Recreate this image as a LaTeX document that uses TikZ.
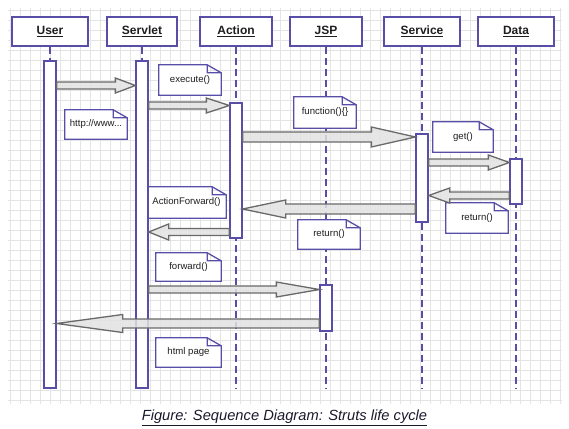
\documentclass[tikz,border=0pt]{standalone}
\usepackage{fontspec}
\setmainfont{Liberation Sans}
\usepackage{tikz}
\usetikzlibrary{calc}

\definecolor{umlblue}{RGB}{88,78,168}
\definecolor{textgray}{RGB}{30,30,30}
\definecolor{arrowgray}{RGB}{105,105,105}
\definecolor{arrowfill}{RGB}{226,226,226}
\definecolor{gridgray}{RGB}{228,228,228}
\definecolor{captioncol}{RGB}{25,25,45}

\pgfdeclarelayer{bg}
\pgfdeclarelayer{lines}
\pgfdeclarelayer{notebg}
\pgfsetlayers{bg,lines,notebg,main}

% block arrow: from, to, half shaft, half head, head length
\newcommand\msg[5]{%
  \filldraw[msgarrow] let \p1=(#1), \p2=(#2), \n1={sign(\x2-\x1)*#5} in
    (\x1,\y1+#3) -- (\x2-\n1,\y1+#3) -- (\x2-\n1,\y1+#4) -- (\x2,\y1)
    -- (\x2-\n1,\y1-#4) -- (\x2-\n1,\y1-#3) -- (\x1,\y1-#3) -- cycle;}

\begin{document}
\begin{tikzpicture}[x=1pt,y=-1pt,
  head/.style={draw=umlblue,line width=1.3pt,fill=white,minimum height=29pt,
    font=\fontsize{12}{14}\selectfont\bfseries,text=textgray},
  bar/.style={draw=umlblue,line width=1.3pt,fill=white,minimum width=12pt,inner sep=0pt},
  lifeline/.style={draw=umlblue,line width=1.3pt,dash pattern=on 7pt off 4pt},
  note/.style={minimum height=29pt,inner sep=0pt,
    font=\fontsize{9.6}{11}\selectfont,text=textgray},
  notebox/.style={draw=umlblue,line width=1.3pt,fill=white,line join=miter},
  msgarrow/.style={draw=arrowgray,fill=arrowfill,fill opacity=0.85,
    line width=1.3pt,line join=miter},
  gridline/.style={draw=gridgray,line width=0.5pt}]

\useasboundingbox (0,0) rectangle (569,428);

\begin{pgfonlayer}{bg}
\draw[gridline,step=10pt] (8,8) grid (562,404);
\end{pgfonlayer}

\node[head,minimum width=76pt] (user) at (50,31.5) {\underline{User}};
\node[head,minimum width=70pt] (servlet) at (142,31.5) {\underline{Servlet}};
\node[head,minimum width=72pt] (action) at (236,31.5) {\underline{Action}};
\node[head,minimum width=72pt] (jsp) at (326,31.5) {\underline{JSP}};
\node[head,minimum width=76pt] (service) at (422,31.5) {\underline{Service}};
\node[head,minimum width=76pt] (data) at (516,31.5) {\underline{Data}};

\coordinate (lifeend) at (0,388);
\begin{pgfonlayer}{lines}
\foreach \n in {user,servlet,action,jsp,service,data}
  \draw[lifeline] (\n) -- (\n |- lifeend);
\end{pgfonlayer}

\node[note,minimum width=62pt,minimum height=30pt] (execute) at (190,80) {execute()};
\node[note,minimum width=62pt] (http) at (96,124.5) {http://www...};
\node[note,minimum width=62pt,minimum height=31pt] (function) at (325,112.5) {function()\{\}};
\node[note,minimum width=60pt,minimum height=30pt] (get) at (463,137) {get()};
\node[note,minimum width=79pt,minimum height=31pt] (actionfwd) at (186.5,202.5) {ActionForward()};
\node[note,minimum width=62pt] (jspreturn) at (329,234.5) {return()};
\node[note,minimum width=62pt,minimum height=30pt] (datareturn) at (477,218) {return()};
\node[note,minimum width=65pt,minimum height=28pt] (forward) at (188.5,267) {forward()};
\node[note,minimum width=65pt] (htmlpage) at (188.5,352.5) {html page};

\begin{pgfonlayer}{notebg}
\foreach \n in {execute,http,function,get,actionfwd,jspreturn,datareturn,forward,htmlpage}
  \draw[notebox] (\n.south west) -- (\n.north west) -- ([xshift=-14pt]\n.north east)
    -- ([yshift=-8pt]\n.north east) -- (\n.south east) -- cycle
    ([xshift=-14pt]\n.north east) |- ([yshift=-8pt]\n.north east);
\end{pgfonlayer}

\node[bar,minimum height=327pt] (userbar) at (50,224.5) {};
\node[bar,minimum height=327pt] (servletbar) at (142,224.5) {};
\node[bar,minimum height=135pt] (actionbar) at (236,170.5) {};
\node[bar,minimum height=46pt] (jspbar) at (326,308) {};
\node[bar,minimum height=88pt] (servicebar) at (422,178) {};
\node[bar,minimum height=45pt] (databar) at (516,181.5) {};

\foreach \i/\y in {1/85.5,2/105.5,3/137,4/162.5,5/195.5,6/209,7/232,8/289.5,9/323.5}
  \coordinate (r\i) at (0,\y);

\msg{userbar.east |- r1}{servletbar.west |- r1}{3.5pt}{7.5pt}{20pt}
\msg{servletbar.east |- r2}{actionbar.west |- r2}{3.5pt}{7.5pt}{23pt}
\msg{actionbar.east |- r3}{servicebar.west |- r3}{5pt}{10pt}{44pt}
\msg{servicebar.east |- r4}{databar.west |- r4}{3.5pt}{7.5pt}{21pt}
\msg{databar.west |- r5}{servicebar.east |- r5}{3.5pt}{7.5pt}{21pt}
\msg{servicebar.west |- r6}{actionbar.east |- r6}{5pt}{9pt}{43pt}
\msg{actionbar.west |- r7}{servletbar.east |- r7}{3.5pt}{8pt}{20pt}
\msg{servletbar.east |- r8}{jspbar.west |- r8}{3.5pt}{7.5pt}{43pt}
\msg{jspbar.west |- r9}{userbar.east |- r9}{4.5pt}{9pt}{66pt}

\node[font=\fontsize{14.7}{17}\selectfont\itshape,text=captioncol,anchor=base,inner sep=0pt]
  (caption) at (284.5,420.5) {\underline{Figure: Sequence Diagram: Struts life cycle}};
\end{tikzpicture}
\end{document}
